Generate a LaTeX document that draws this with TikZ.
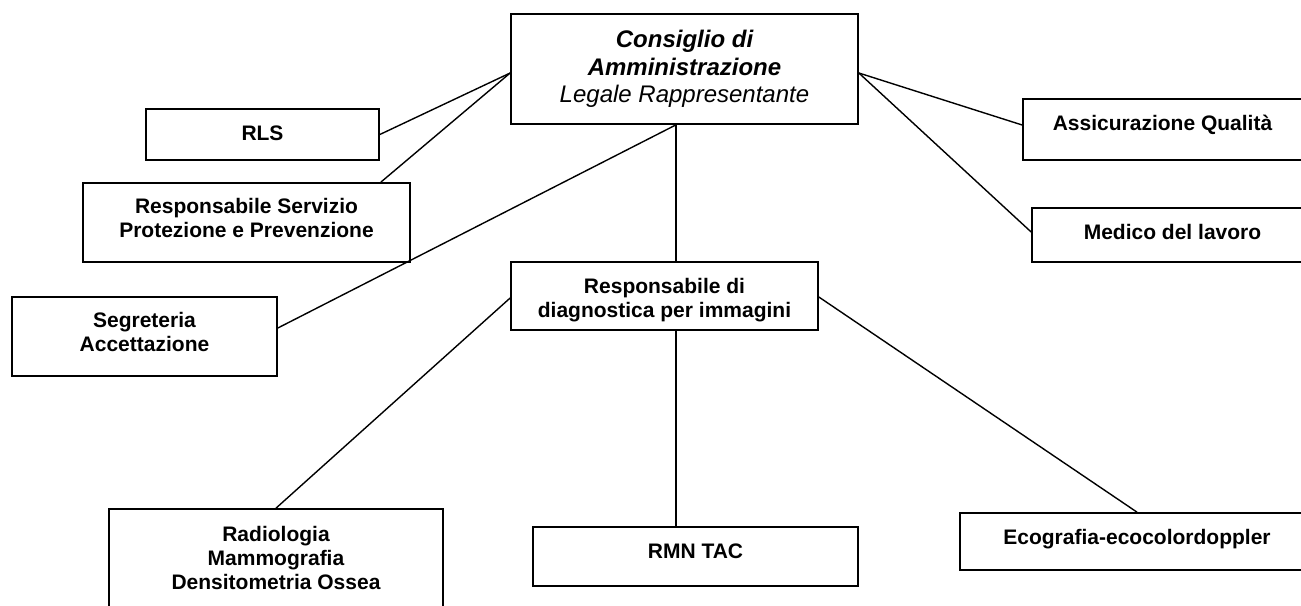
\documentclass[tikz,border=0pt]{standalone}
\usepackage{fontspec}
\setmainfont{Liberation Sans}
\begin{document}
\begin{tikzpicture}[x=1pt,y=-1pt,
  box/.style={draw, line width=1.7pt, rectangle, inner sep=0pt, align=center, font=\fontsize{21}{24}\selectfont\bfseries},
  link/.style={line width=1.4pt}]
\useasboundingbox (0,0) rectangle (1301,605);
\clip (0,0) rectangle (1301,605);
\node[box, minimum width=347pt, minimum height=110pt, font=\fontsize{24}{27.5}\selectfont\itshape] (top) at (684.5,69) {\textbf{Consiglio di}\\\textbf{Amministrazione}\\Legale Rappresentante};
\node[box, minimum width=233pt, minimum height=51pt, text height=15pt, text depth=4pt] (rls) at (262.5,134.5) {RLS};
\node[box, minimum width=327pt, minimum height=79pt] (rspp) at (246.5,222.5) {Responsabile Servizio\\Protezione e Prevenzione\rule[-10pt]{0pt}{10pt}};
\node[box, minimum width=265pt, minimum height=79pt] (seg) at (144.5,336.5) {Segreteria\\Accettazione\rule[-10pt]{0pt}{10pt}};
\node[box, minimum width=279pt, minimum height=61pt, text height=15pt, text depth=13pt] (asq) at (1162.5,129.5) {Assicurazione Qualità};
\node[box, minimum width=281pt, minimum height=54pt, text height=15pt, text depth=6pt] (med) at (1172.5,235) {Medico del lavoro};
\node[box, minimum width=307pt, minimum height=68pt] (resp) at (664.5,296) {\rule{0pt}{24pt}Responsabile di\\diagnostica per immagini};
\node[box, minimum width=334pt, minimum height=98pt] (rad) at (276,558) {Radiologia\\Mammografia\\Densitometria Ossea};
\node[box, minimum width=325pt, minimum height=59pt, text height=15pt, text depth=12pt] (rmn) at (695.5,556.5) {RMN TAC};
\node[box, minimum width=354pt, minimum height=57pt, text height=15pt, text depth=9pt] (eco) at (1137,541.5) {Ecografia-ecocolordoppler};
\coordinate (vx) at (676,0);
\draw[link] ([yshift=-4pt]top.west) -- (rls.east);
\draw[link] ([yshift=-4pt]top.west) -- ([xshift=-30pt]rspp.north east);
\draw[link] (vx |- top.south) -- ([yshift=8.5pt]seg.east);
\draw[link] (vx |- top.south) -- (vx |- resp.north);
\draw[link] ([yshift=-4pt]top.east) -- ([yshift=4.5pt]asq.west);
\draw[link] ([yshift=-4pt]top.east) -- ([yshift=3pt]med.west);
\draw[link] ([yshift=-2pt]resp.west) -- (rad.north);
\draw[link] ([yshift=-1pt]resp.east) -- (eco.north);
\draw[link] (vx |- resp.south) -- (vx |- rmn.north);
\end{tikzpicture}
\end{document}
